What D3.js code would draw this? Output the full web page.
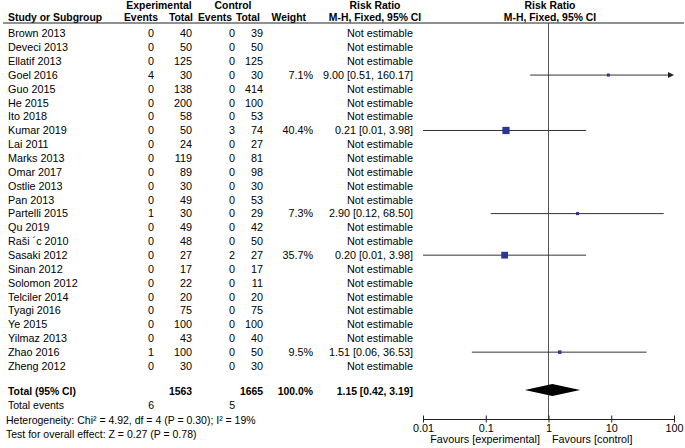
<!DOCTYPE html>
<html><head><meta charset="utf-8">
<script src="https://cdn.jsdelivr.net/npm/d3@7"></script>
<style>
body{margin:0;background:#fff;}
text{font-family:"Liberation Sans",Arial,sans-serif;font-size:10.8px;fill:#000;}
.b{font-weight:bold;font-size:10.4px;}
.f{font-size:10.5px;}
</style></head><body>
<svg id="c" width="685" height="448"></svg>
<script>
const studies = ["Brown 2013","Deveci 2013","Ellatif 2013","Goel 2016","Guo 2015","He 2015","Ito 2018","Kumar 2019","Lai 2011","Marks 2013","Omar 2017","Ostlie 2013","Pan 2013","Partelli 2015","Qu 2019","Raši ´c 2010","Sasaki 2012","Sinan 2012","Solomon 2012","Telciler 2014","Tyagi 2016","Ye 2015","Yilmaz 2013","Zhao 2016","Zheng 2012"];
const expEvents = [0,0,0,4,0,0,0,0,0,0,0,0,0,1,0,0,0,0,0,0,0,0,0,1,0];
const expTotal = [40,50,125,30,138,200,58,50,24,119,89,30,49,30,49,48,27,17,22,20,75,100,43,100,30];
const ctrlEvents = [0,0,0,0,0,0,0,3,0,0,0,0,0,0,0,0,2,0,0,0,0,0,0,0,0];
const ctrlTotal = [39,50,125,30,414,100,53,74,27,81,98,30,53,29,42,50,27,17,11,20,75,100,40,50,30];
const weight = [null,null,null,7.1,null,null,null,40.4,null,null,null,null,null,7.3,null,null,35.7,null,null,null,null,null,null,9.5,null];
const rr = [null,null,null,9.00,null,null,null,0.21,null,null,null,null,null,2.90,null,null,0.20,null,null,null,null,null,null,1.51,null];
const lo = [null,null,null,0.51,null,null,null,0.01,null,null,null,null,null,0.12,null,null,0.01,null,null,null,null,null,null,0.06,null];
const hi = [null,null,null,160.17,null,null,null,3.98,null,null,null,null,null,68.50,null,null,3.98,null,null,null,null,null,null,36.53,null];
const total = {expTotal:1563, ctrlTotal:1665, weight:100.0, rr:1.15, lo:0.42, hi:3.19, expEvents:6, ctrlEvents:5};
const tickValues = [0.01,0.1,1,10,100];
const heterogeneity = "Heterogeneity: Chi² = 4.92, df = 4 (P = 0.30); I² = 19%";
const overall = "Test for overall effect: Z = 0.27 (P = 0.78)";

const svg = d3.select("#c");
const x = d3.scaleLog().domain([0.01,100]).range([423,674]);
const y = d3.scalePoint().domain(studies).range([33.5,366]);
const sz = d3.scaleSqrt().domain([0,40.4]).range([0,7.2]);
const f2 = d3.format(".2f");
const yTot = 391, yEv = 405.5, yHet = 420, yTest = 434.5, yAxis = 419;
const xL = 8, cEE = 154, cET = 192, cCE = 235, cCT = 263, cW = 313, cRR = 413;

function t(xp, yp, s, anchor, cls){
  return svg.append("text").attr("x",xp).attr("y",yp).attr("dy","0.35em")
    .attr("text-anchor",anchor||"start").attr("class",cls||null).text(s);
}
// headers
t(159,5.5,"Experimental","middle","b");
t(233,5.5,"Control","middle","b");
t(375,5.5,"Risk Ratio","middle","b");
t(550,5.5,"Risk Ratio","middle","b");
t(xL,17.5,"Study or Subgroup","start","b");
t(158,17.5,"Events","end","b");
t(193,17.5,"Total","end","b");
t(232,17.5,"Events","end","b");
t(260,17.5,"Total","end","b");
t(306,17.5,"Weight","end","b");
t(375,17.5,"M-H, Fixed, 95% CI","middle","b");
t(550,17.5,"M-H, Fixed, 95% CI","middle","b");
svg.append("line").attr("x1",3).attr("x2",684).attr("y1",23).attr("y2",23).attr("stroke","#222").attr("stroke-width",1);

// vertical line at 1
svg.append("line").attr("x1",x(1)).attr("x2",x(1)).attr("y1",23).attr("y2",yAxis).attr("stroke","#555").attr("stroke-width",1);

// rows
studies.forEach((s,i)=>{
  const yy = y(s);
  t(xL,yy,s);
  t(cEE,yy,expEvents[i],"end");
  t(cET,yy,expTotal[i],"end");
  t(cCE,yy,ctrlEvents[i],"end");
  t(cCT,yy,ctrlTotal[i],"end");
  if(weight[i]!=null){
    t(cW,yy,weight[i].toFixed(1)+"%","end");
    t(cRR,yy,`${f2(rr[i])} [${f2(lo[i])}, ${f2(hi[i])}]`,"end");
    const x1 = x(Math.max(lo[i],0.01)), x2 = x(Math.min(hi[i],100));
    svg.append("line").attr("x1",x1).attr("x2",hi[i]>100?x2-4:x2).attr("y1",yy).attr("y2",yy)
      .attr("stroke","#333").attr("stroke-width",1);
    if(hi[i]>100){
      svg.append("path").attr("d",`M${x2},${yy} L${x2-6},${yy-3} L${x2-6},${yy+3} Z`).attr("fill","#222");
    }
    const w = sz(weight[i]);
    svg.append("rect").attr("x",x(rr[i])-w/2).attr("y",yy-w/2).attr("width",w).attr("height",w).attr("fill","#2b3593");
  } else {
    t(cRR,yy,"Not estimable","end");
  }
});

// total
t(xL,yTot,"Total (95% CI)","start","b");
t(cET,yTot,total.expTotal,"end","b");
t(cCT,yTot,total.ctrlTotal,"end","b");
t(cW,yTot,total.weight.toFixed(1)+"%","end","b");
t(cRR,yTot,`${f2(total.rr)} [${f2(total.lo)}, ${f2(total.hi)}]`,"end","b");
svg.append("path").attr("d",`M${x(total.lo)},${yTot-1} L${x(total.rr)},${yTot-7} L${x(total.hi)},${yTot-1} L${x(total.rr)},${yTot+5} Z`).attr("fill","#000");
t(xL,yEv,"Total events","start","f");
t(cEE,yEv,total.expEvents,"end","f");
t(cCE,yEv,total.ctrlEvents,"end","f");
t(6,yHet,heterogeneity,"start","f");
t(6,yTest,overall,"start","f");

// axis
const ax = svg.append("g").attr("transform",`translate(0,${yAxis})`)
  .call(d3.axisBottom(x).tickValues(tickValues).tickFormat(d=>String(d)).tickSizeOuter(0).tickSizeInner(0));
ax.select(".domain").attr("stroke","#222");
ax.selectAll(".tick line").attr("y1",-3.5).attr("y2",3.5).attr("stroke","#222");
ax.selectAll(".tick text").attr("y",5).attr("font-size","10.8px").attr("font-family","Liberation Sans, Arial, sans-serif").attr("fill","#000");
t(540,439.5,"Favours [experimental]","end");
t(552,439.5,"Favours [control]","start");
</script>
</body></html>
